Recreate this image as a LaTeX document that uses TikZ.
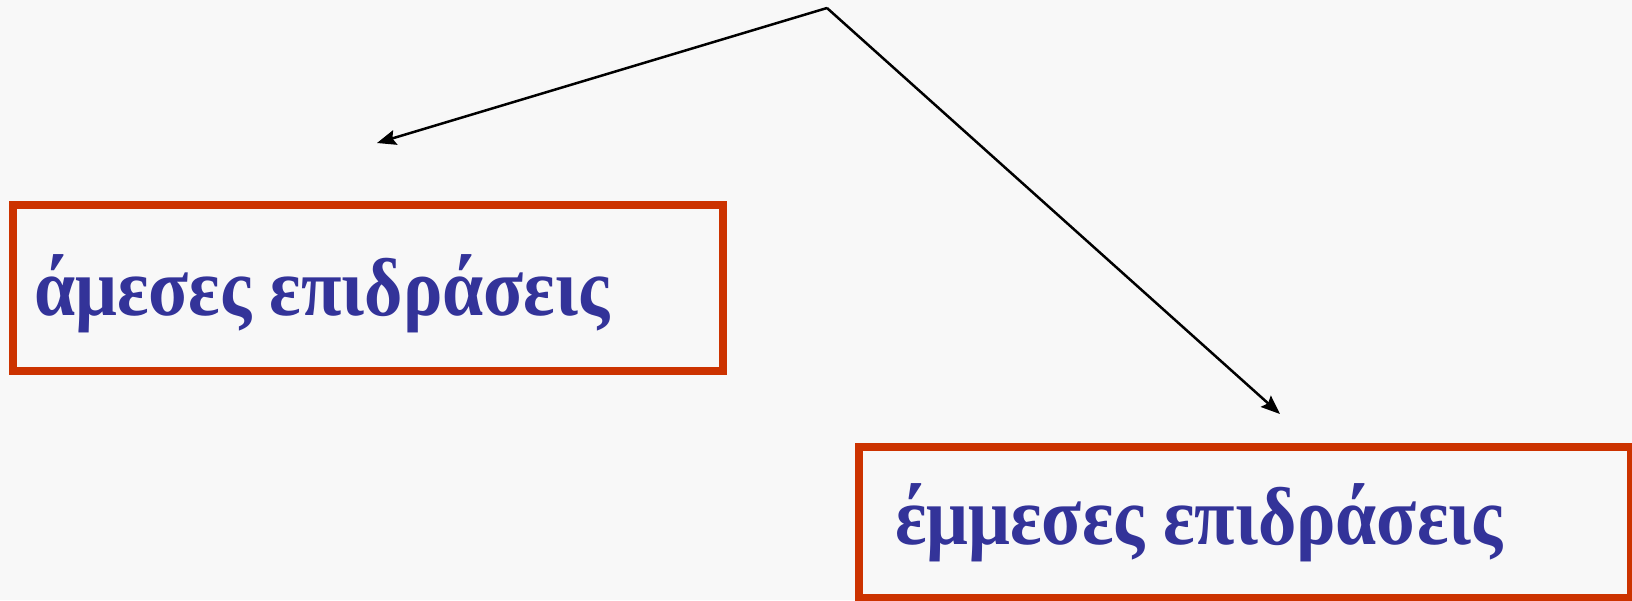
\documentclass[tikz,border=0pt]{standalone}
\usepackage{fontspec}
\setmainfont{Liberation Serif}
\newfontfamily\labelfont[FakeStretch=0.9]{Liberation Serif}
\usetikzlibrary{arrows.meta}
\definecolor{bg}{HTML}{F8F8F8}
\definecolor{boxred}{HTML}{CC3300}
\definecolor{txtblue}{HTML}{333399}
\tikzset{
  redbox/.style={draw=boxred, line width=8pt, minimum width=#1, inner sep=0pt},
  label text/.style={font=\labelfont\fontsize{82}{90}\selectfont\bfseries, text=txtblue, inner sep=0pt, anchor=base west},
  conn/.style={line width=2.5pt, -{Stealth[length=19pt,width=15pt,inset=3pt]}}
}
\begin{document}
\begin{tikzpicture}[x=1pt,y=-1pt]
\fill[bg] (0,0) rectangle (1632,600);
\useasboundingbox (0,0) rectangle (1632,600);
\node[redbox=710.5pt, minimum height=166pt] (box1) at (367.75,288) {};
\node[redbox=771.7pt, minimum height=151.3pt] (box2) at (1244.85,522.35) {};
\node[label text] (t1) at (34,315) {άμεσες επιδράσεις};
\node[label text] (t2) at (895,544) {έμμεσες επιδράσεις};
\coordinate (apex) at (827,8);
\coordinate (end1) at (377,143);
\coordinate (end2) at (1280,414);
\draw[conn] (apex) -- (end1);
\draw[conn] (apex) -- (end2);
\end{tikzpicture}
\end{document}
